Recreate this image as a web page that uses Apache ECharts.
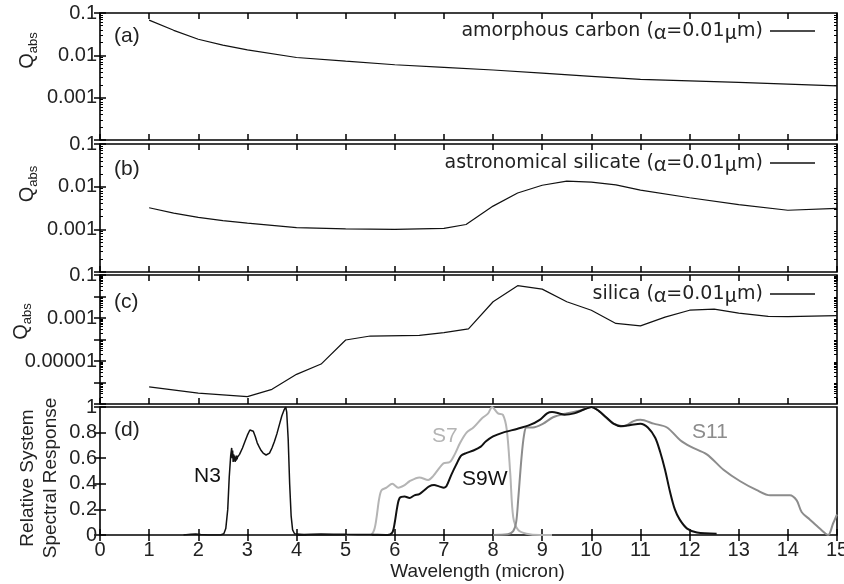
<!DOCTYPE html>
<html><head><meta charset="utf-8">
<script src="https://cdn.jsdelivr.net/npm/echarts@6/dist/echarts.min.js"></script>
<style>html,body{margin:0;padding:0;background:#fff}#c{width:844px;height:584px}</style>
</head><body><div id="c"></div><script>
// ---------- data ----------
const xTickLabels = ['0','1','2','3','4','5','6','7','8','9','10','11','12','13','14','15'];
const qTickLabelsAB = ['0.001','0.01','0.1'];
const qTickLabelsC = ['0.00001','0.001','0.1'];
const respTickLabels = ['0','0.2','0.4','0.6','0.8','1'];

const nameA = 'amorphous carbon (α=0.01μm)';
const nameB = 'astronomical silicate (α=0.01μm)';
const nameC = 'silica (α=0.01μm)';

const wavelengthA = [1,1.5,2,2.5,3,4,5,6,7,8,9,10,11,12,13,14,15];
const qAmorphousCarbon = [0.068,0.039,0.024,0.0175,0.0134,0.0089,0.0073,0.006,0.0052,0.0045,0.0038,0.0032,0.0027,0.0025,0.0023,0.0021,0.0019];

const wavelengthB = [1,1.5,2,2.5,3,4,5,6,7,7.45,8,8.5,9,9.5,10,10.5,11,12,13,14,15];
const qAstroSilicate = [0.0032,0.0024,0.0019,0.0016,0.0014,0.0011,0.00102,0.001,0.00105,0.0013,0.0035,0.0071,0.0108,0.0135,0.0128,0.011,0.0083,0.0055,0.0038,0.0028,0.0031];

const wavelengthC = [1,2,3,3.5,4,4.5,5,5.5,6.5,7,7.5,8,8.5,9,9.5,10,10.5,11,11.5,12,12.5,13,13.6,14,15];
const qSilica = [6.3e-7,3.2e-7,2.2e-7,4.8e-7,2.4e-6,7.2e-6,9.5e-5,1.45e-4,1.56e-4,2.1e-4,3.1e-4,0.0057,0.032,0.022,0.0057,0.0023,5.6e-4,4.3e-4,0.0011,0.0023,0.0026,0.0017,0.0012,0.00115,0.0013];

const wavelengthN3 = [1.7,1.85,1.95,2.05,2.2,2.45,2.52,2.56,2.6,2.63,2.66,2.68,2.69,2.7,2.71,2.72,2.73,2.74,2.75,2.76,2.77,2.78,2.79,2.8,2.82,2.84,2.86,2.9,2.95,3.0,3.05,3.08,3.12,3.16,3.2,3.25,3.28,3.3,3.32,3.34,3.36,3.38,3.4,3.42,3.45,3.5,3.55,3.6,3.65,3.7,3.75,3.78,3.8,3.83,3.86,3.89,3.92,3.96,4.0,4.2];
const respN3 = [0,0.005,0.008,0.003,0,0,0.01,0.05,0.2,0.45,0.62,0.68,0.6,0.66,0.57,0.63,0.58,0.62,0.57,0.61,0.58,0.62,0.59,0.61,0.6,0.63,0.64,0.68,0.73,0.78,0.82,0.83,0.81,0.77,0.72,0.68,0.66,0.65,0.64,0.645,0.63,0.625,0.615,0.62,0.64,0.68,0.73,0.79,0.86,0.93,0.98,1.0,0.96,0.75,0.4,0.15,0.04,0.01,0,0];

const wavelengthS7 = [5.0,5.5,5.58,5.63,5.68,5.73,5.83,5.95,6.07,6.2,6.3,6.5,6.68,6.78,6.9,6.99,7.12,7.22,7.33,7.46,7.6,7.77,7.9,7.98,8.1,8.2,8.28,8.35,8.41,8.51,8.68,8.95,9.2];
const respS7 = [0,0,0.04,0.14,0.28,0.35,0.37,0.4,0.37,0.39,0.42,0.45,0.43,0.46,0.52,0.56,0.57,0.63,0.72,0.8,0.84,0.91,0.95,1.0,0.95,0.94,0.82,0.48,0.14,0.04,0.01,0,0];

const wavelengthS9W = [4.0,4.5,5.0,5.5,5.85,5.95,6.0,6.05,6.1,6.2,6.3,6.4,6.5,6.6,6.7,6.8,6.9,7.0,7.05,7.15,7.25,7.35,7.45,7.6,7.75,7.85,8.0,8.2,8.5,8.75,8.95,9.1,9.2,9.35,9.45,9.65,9.85,10.0,10.15,10.3,10.45,10.6,10.8,11.0,11.15,11.3,11.4,11.5,11.6,11.7,11.8,11.95,12.15,12.55];
const respS9W = [0,0.005,0.003,0.002,0,0.02,0.1,0.22,0.29,0.3,0.29,0.31,0.32,0.35,0.38,0.39,0.38,0.37,0.38,0.47,0.55,0.62,0.64,0.66,0.69,0.73,0.77,0.8,0.83,0.86,0.9,0.95,0.96,0.95,0.94,0.95,0.98,1.0,0.97,0.92,0.87,0.85,0.86,0.87,0.84,0.76,0.65,0.51,0.34,0.2,0.12,0.05,0.02,0.01];

const wavelengthS11 = [8.0,8.3,8.41,8.47,8.51,8.58,8.63,8.68,8.81,9.02,9.22,9.49,9.76,10.0,10.15,10.45,10.66,10.86,11.0,11.27,11.54,11.81,12.02,12.35,12.69,13.03,13.37,13.64,14.04,14.18,14.28,14.45,14.65,14.82,14.92,15.0];
const respS11 = [0,0.005,0.03,0.1,0.27,0.61,0.78,0.84,0.84,0.87,0.92,0.95,0.97,1.0,0.97,0.87,0.85,0.89,0.9,0.87,0.84,0.74,0.69,0.63,0.51,0.42,0.35,0.31,0.31,0.27,0.18,0.12,0.05,0,0.09,0.16];

// ---------- helpers ----------
const zip = (xs, ys) => xs.map((x, i) => [x, ys[i]]);
const SANS = 'Liberation Sans';
const TXT = '#222';
function findLabel(list, v) {
  const t = list.find(s => Math.abs(parseFloat(s) - v) <= Math.abs(v) * 1e-6 + 1e-12);
  return t === undefined ? '' : t;
}
function minorExps(lo, hi) {
  const out = [];
  for (let k = lo; k < hi; k++) for (let m = 2; m <= 9; m++) out.push(k + Math.log10(m));
  return out;
}

const grids = [
  {left: 100, right: 7, top: 13, height: 127},
  {left: 100, right: 7, top: 144, height: 128},
  {left: 100, right: 7, top: 275, height: 129},
  {left: 100, right: 7, top: 407, height: 128}
].map(g => Object.assign(g, {show: true, borderColor: '#000', borderWidth: 1.6, backgroundColor: 'transparent',
  containLabel: false, outerBoundsMode: 'none'}));

const tickStyle = {color: '#000', width: 1.5};
const xAxes = [];
for (let i = 0; i < 4; i++) {
  const last = i === 3;
  xAxes.push({
    type: 'value', gridIndex: i, min: 0, max: 15, interval: 1, position: 'bottom',
    axisLine: {show: false}, splitLine: {show: false},
    axisTick: {show: true, inside: true, length: 6, lineStyle: tickStyle},
    axisLabel: {show: last, fontFamily: SANS, fontSize: 20, color: TXT, margin: 5,
      formatter: v => xTickLabels[Math.round(v)]},
    name: last ? 'Wavelength (micron)' : '', nameLocation: 'middle', nameGap: 27,
    nameTextStyle: {fontFamily: SANS, fontSize: 19, color: TXT, padding: [0, 0, 0, 18]}
  });
  xAxes.push({
    type: 'value', gridIndex: i, min: 0, max: 15, interval: 1, position: 'top',
    axisLine: {show: false}, splitLine: {show: false},
    axisTick: {show: true, inside: true, length: 6, lineStyle: tickStyle},
    axisLabel: {show: false}
  });
}

const qName = '{q|Q}{s|abs}';
const qNameStyle = (shift) => ({
  padding: [0, 0, 0, shift],
  rich: {
    q: {fontFamily: SANS, fontSize: 20, color: TXT},
    s: {fontFamily: SANS, fontSize: 13, color: TXT, padding: [12, 0, 0, 0]}
  }
});
const logPanels = [
  {min: 1e-4, max: 0.1, labels: qTickLabelsAB, shift: 52, gap: 60},
  {min: 1e-4, max: 0.1, labels: qTickLabelsAB, shift: 48, gap: 60},
  {min: 1e-7, max: 0.1, labels: qTickLabelsC, shift: 36, gap: 66}
];
const yAxes = [];
logPanels.forEach((p, i) => {
  const lo = Math.round(Math.log10(p.min)), hi = Math.round(Math.log10(p.max));
  yAxes.push({
    type: 'log', logBase: 10, gridIndex: i, min: p.min, max: p.max, position: 'left',
    axisLine: {show: false}, splitLine: {show: false},
    axisTick: {show: true, inside: true, length: 6, lineStyle: tickStyle},
    axisLabel: {fontFamily: SANS, fontSize: 20, color: TXT, margin: 3, formatter: v => findLabel(p.labels, v)},
    name: qName, nameLocation: 'middle', nameRotate: 90, nameGap: p.gap, nameMoveOverlap: false,
    nameTextStyle: qNameStyle(p.shift)
  });
  yAxes.push({
    type: 'log', logBase: 10, gridIndex: i, min: p.min, max: p.max, position: 'right',
    axisLine: {show: false}, splitLine: {show: false},
    axisTick: {show: true, inside: true, length: 6, lineStyle: tickStyle},
    axisLabel: {show: false}
  });
  ['left', 'right'].forEach(pos => yAxes.push({
    type: 'value', gridIndex: i, min: lo, max: hi, position: pos,
    axisLine: {show: false}, splitLine: {show: false},
    axisTick: {show: true, inside: true, length: 3, lineStyle: {color: '#000', width: 1}, customValues: minorExps(lo, hi)},
    axisLabel: {show: false}
  }));
});
yAxes.push({
  type: 'value', gridIndex: 3, min: 0, max: 1, interval: 0.2, position: 'left',
  axisLine: {show: false}, splitLine: {show: false},
  axisTick: {show: true, inside: true, length: 6, lineStyle: tickStyle},
  axisLabel: {fontFamily: SANS, fontSize: 20, color: TXT, margin: 3, formatter: v => respTickLabels[Math.round(v * 5)]},
  name: 'Relative System\nSpectral Response', nameLocation: 'middle', nameRotate: 90, nameGap: 38, nameMoveOverlap: false,
  nameTextStyle: {fontFamily: SANS, fontSize: 19, color: TXT, lineHeight: 23, padding: [0, 14, 0, 0]}
});
yAxes.push({
  type: 'value', gridIndex: 3, min: 0, max: 1, interval: 0.2, position: 'right',
  axisLine: {show: false}, splitLine: {show: false},
  axisTick: {show: true, inside: true, length: 6, lineStyle: tickStyle},
  axisLabel: {show: false}
});

const lineSeries = (name, xi, yi, xs, ys, color, width) => ({
  type: 'line', name, xAxisIndex: xi, yAxisIndex: yi, data: zip(xs, ys),
  symbol: 'none', showSymbol: false, animation: false,
  lineStyle: {color, width}, itemStyle: {color}
});

const richLegend = name => name.replace(/([^αμ]+)/g, '{t|$1}').replace(/([αμ])/g, '{g|$1}');
const legendBase = (name, top) => ({
  data: [name], right: 24, top, align: 'right', icon: 'rect', itemWidth: 45, itemHeight: 1.3, itemGap: 0,
  selectedMode: false, formatter: richLegend,
  textStyle: {padding: [0, 2, 0, 0], rich: {
    t: {fontFamily: 'DejaVu Sans', fontSize: 19, color: TXT},
    g: {fontFamily: 'Noto Sans CJK JP', fontSize: 20, color: TXT}
  }}
});

const labelText = (txt, left, top, color, size) => ({
  type: 'text', left, top, silent: true,
  style: {text: txt, fill: color, font: size + 'px "' + SANS + '"'}
});

const option = {
  backgroundColor: '#fff',
  animation: false,
  grid: grids,
  xAxis: xAxes,
  yAxis: yAxes,
  legend: [legendBase(nameA, 16), legendBase(nameB, 148), legendBase(nameC, 279)],
  series: [
    lineSeries(nameA, 0, 0, wavelengthA, qAmorphousCarbon, '#111', 1.2),
    lineSeries(nameB, 2, 4, wavelengthB, qAstroSilicate, '#111', 1.2),
    lineSeries(nameC, 4, 8, wavelengthC, qSilica, '#111', 1.2),
    Object.assign(lineSeries('S7', 6, 12, wavelengthS7, respS7, '#b4b4b4', 2), {smooth: 0.3}),
    Object.assign(lineSeries('S11', 6, 12, wavelengthS11, respS11, '#8c8c8c', 2), {smooth: 0.3}),
    lineSeries('N3', 6, 12, wavelengthN3, respN3, '#111', 1.5),
    Object.assign(lineSeries('S9W', 6, 12, wavelengthS9W, respS9W, '#111', 2), {smooth: 0.3})
  ],
  graphic: [
    labelText('(a)', 114, 26, TXT, 21),
    labelText('(b)', 114, 159, TXT, 21),
    labelText('(c)', 114, 292, TXT, 21),
    labelText('(d)', 114, 420, TXT, 21),
    labelText('N3', 194, 466, '#111', 21),
    labelText('S7', 432, 426, '#b4b4b4', 21),
    labelText('S9W', 462, 469, '#111', 21),
    labelText('S11', 692, 422, '#8c8c8c', 21)
  ]
};
const chart = echarts.init(document.getElementById('c'), null, {renderer: 'canvas'});
chart.setOption(option);
</script></body></html>
